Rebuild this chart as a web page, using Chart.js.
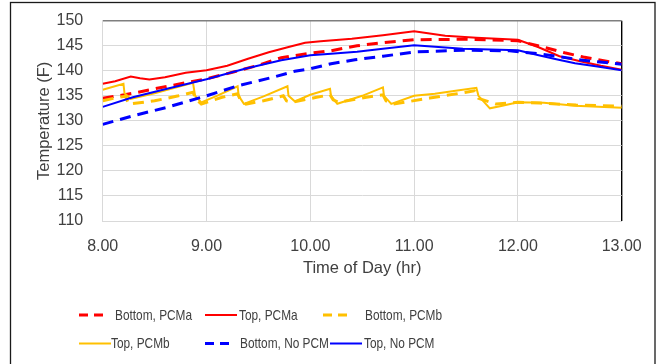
<!DOCTYPE html>
<html>
<head>
<meta charset="utf-8">
<script src="https://cdn.jsdelivr.net/npm/chart.js@4.4.1/dist/chart.umd.min.js"></script>
<style>
  html, body { margin: 0; padding: 0; background: #ffffff; }
  #wrap { position: relative; width: 663px; height: 364px; overflow: hidden; }
  canvas { display: block; }
</style>
</head>
<body>
<div id="wrap"><canvas id="c" width="663" height="364"></canvas></div>
<script>
// ---------------- DATA ----------------
const xTickLabels = ['8.00', '9.00', '10.00', '11.00', '12.00', '13.00'];
const yTickValues = [110, 115, 120, 125, 130, 135, 140, 145, 150];

const seriesNames = ['Bottom, PCMa', 'Top, PCMa', 'Bottom, PCMb', 'Top, PCMb', 'Bottom, No PCM', 'Top, No PCM'];

// Bottom, PCMa (red dashed)
const bottomPCMaTime = [8.0, 8.15, 8.34, 8.5, 8.75, 9.0, 9.25, 9.5, 9.72, 10.0, 10.2, 10.45, 10.7, 11.0, 11.5, 12.0, 12.24, 12.45, 12.63, 12.8, 13.0];
const bottomPCMaTemp = [134.5, 135.0, 135.7, 136.4, 137.4, 138.4, 139.7, 141.1, 142.6, 143.5, 144.0, 145.0, 145.6, 146.2, 146.3, 146.0, 144.75, 143.6, 142.75, 142.1, 141.4];

// Top, PCMa (red solid)
const topPCMaTime = [8.0, 8.12, 8.27, 8.36, 8.45, 8.6, 8.8, 9.0, 9.2, 9.4, 9.6, 9.8, 9.95, 10.1, 10.4, 10.7, 11.0, 11.3, 11.6, 12.0, 12.2, 12.4, 12.6, 12.8, 13.0];
const topPCMaTemp = [137.4, 137.9, 138.85, 138.5, 138.25, 138.7, 139.6, 140.1, 141.0, 142.4, 143.7, 144.8, 145.6, 145.9, 146.4, 147.1, 147.9, 147.0, 146.6, 146.2, 144.7, 142.9, 141.9, 141.0, 140.2];

// Bottom, PCMb (yellow dashed)
const bottomPCMbTime = [8.0, 8.15, 8.22, 8.25, 8.5, 8.73, 8.87, 8.9, 8.95, 9.15, 9.3, 9.33, 9.38, 9.55, 9.74, 9.77, 9.82, 10.06, 10.19, 10.22, 10.27, 10.54, 10.7, 10.73, 10.8, 11.15, 11.5, 11.58, 11.62, 11.79, 12.0, 12.21, 12.56, 13.0];
const bottomPCMbTemp = [134.0, 134.7, 134.9, 133.35, 134.0, 135.0, 135.7, 134.3, 133.35, 134.7, 135.4, 134.0, 133.35, 134.0, 135.0, 134.0, 133.7, 134.7, 135.2, 134.2, 133.7, 134.7, 135.2, 134.0, 133.35, 134.55, 135.7, 136.0, 134.5, 133.35, 133.7, 133.55, 133.15, 132.9];

// Top, PCMb (yellow solid)
const topPCMbTime = [8.0, 8.2, 8.21, 8.27, 8.5, 8.87, 8.89, 8.95, 9.1, 9.3, 9.31, 9.36, 9.55, 9.78, 9.79, 9.85, 10.0, 10.19, 10.2, 10.26, 10.5, 10.7, 10.71, 10.78, 11.0, 11.2, 11.4, 11.6, 11.62, 11.73, 11.85, 12.0, 12.25, 12.55, 13.0];
const topPCMbTemp = [136.2, 137.4, 135.5, 134.4, 135.5, 137.6, 135.0, 133.7, 135.0, 136.9, 135.0, 133.4, 134.9, 136.9, 135.0, 133.9, 135.2, 136.4, 135.0, 133.4, 135.0, 136.7, 135.0, 133.4, 135.0, 135.4, 136.0, 136.6, 135.0, 132.5, 133.0, 133.7, 133.6, 133.0, 132.6];

// Bottom, No PCM (blue dashed)
const bottomNoPCMTime = [8.0, 8.29, 8.62, 9.0, 9.3, 9.64, 9.85, 10.0, 10.2, 10.43, 10.7, 11.0, 11.47, 11.92, 12.24, 12.63, 13.0];
const bottomNoPCMTemp = [129.3, 131.0, 132.7, 135.0, 137.0, 138.7, 139.9, 140.4, 141.4, 142.2, 142.9, 143.75, 144.1, 144.0, 143.3, 142.1, 141.3];

// Top, No PCM (blue solid)
const topNoPCMTime = [8.0, 8.29, 8.62, 9.0, 9.37, 9.72, 10.0, 10.2, 10.45, 10.7, 11.0, 11.47, 12.0, 12.2, 12.37, 12.55, 12.75, 13.0];
const topNoPCMTemp = [132.8, 134.7, 136.4, 138.3, 140.4, 142.1, 143.1, 143.4, 143.8, 144.4, 145.1, 144.4, 144.1, 143.1, 142.3, 141.5, 140.9, 140.1];

// ---------------- BUILD ----------------
function pts(ts, vs) { return ts.map((t, i) => ({ x: t, y: vs[i] })); }

const RED = '#FF0000', YEL = '#FFC000', BLU = '#0000FF';
const DASH = [11, 7];

const seriesData = [
  pts(bottomPCMaTime, bottomPCMaTemp),
  pts(topPCMaTime, topPCMaTemp),
  pts(bottomPCMbTime, bottomPCMbTemp),
  pts(topPCMbTime, topPCMbTemp),
  pts(bottomNoPCMTime, bottomNoPCMTemp),
  pts(topNoPCMTime, topNoPCMTemp)
];
const seriesStyle = [
  { color: RED, dash: DASH, w: 3 },
  { color: RED, dash: [], w: 2 },
  { color: YEL, dash: DASH, w: 3 },
  { color: YEL, dash: [], w: 2 },
  { color: BLU, dash: DASH, w: 3 },
  { color: BLU, dash: [], w: 2 }
];

const datasets = seriesNames.map((name, i) => ({
  label: name,
  data: seriesData[i],
  borderColor: seriesStyle[i].color,
  backgroundColor: seriesStyle[i].color,
  borderDash: seriesStyle[i].dash,
  borderWidth: seriesStyle[i].w,
  pointRadius: 0,
  fill: false,
  tension: 0,
  order: seriesNames.length - i
}));

const FONT = "'Liberation Sans', Arial, sans-serif";
const TXT = '#404040';
const GRID = '#D9D9D9';

// frame + custom legend (Excel-like 3-column layout)
const legendSpots = [
  { lx: 79, tx: 115, y: 315 },
  { lx: 205, tx: 239, y: 315 },
  { lx: 323, tx: 365, y: 315 },
  { lx: 79, tx: 111, y: 343.5 },
  { lx: 205, tx: 240, y: 343.5 },
  { lx: 330, tx: 364, y: 343.5 }
];

const framePlugin = {
  id: 'frameAndLegend',
  beforeDraw(chart) {
    const c = chart.ctx;
    c.save();
    c.fillStyle = '#ffffff';
    c.fillRect(0, 0, chart.width, chart.height);
    c.restore();
  },
  afterDraw(chart) {
    const c = chart.ctx;
    c.save();
    c.strokeStyle = '#1a1a1a';
    c.lineWidth = 1.3;
    c.strokeRect(10.5, 2.5, 644.5, 400);
    c.restore();

    chart.data.datasets.forEach((ds, i) => {
      const s = legendSpots[i];
      c.save();
      c.strokeStyle = ds.borderColor;
      c.lineWidth = ds.borderWidth;
      const dashed = ds.borderDash && ds.borderDash.length;
      c.setLineDash(dashed ? [9, 6] : []);
      c.beginPath();
      c.moveTo(s.lx, s.y);
      c.lineTo(s.lx + (dashed ? 25 : 32), s.y);
      c.stroke();
      c.restore();

      c.save();
      c.fillStyle = TXT;
      c.font = "15px 'Liberation Sans', Arial, sans-serif";
      c.textBaseline = 'middle';
      c.textAlign = 'left';
      c.translate(s.tx, s.y + 0.5);
      c.scale(0.79, 1);
      c.fillText(ds.label, 0, 0);
      c.restore();
    });
  }
};

new Chart(document.getElementById('c'), {
  type: 'line',
  data: { datasets },
  plugins: [framePlugin],
  options: {
    responsive: false,
    animation: false,
    devicePixelRatio: 1,
    layout: { padding: { left: 0, top: 20.7, right: 41.3, bottom: 0 } },
    plugins: { legend: { display: false }, tooltip: { enabled: false } },
    scales: {
      x: {
        type: 'linear',
        min: 8, max: 13,
        afterBuildTicks(scale) {
          scale.ticks = xTickLabels.map(l => ({ value: parseFloat(l) }));
        },
        ticks: {
          callback: (v) => xTickLabels.find(l => parseFloat(l) === v) || '',
          font: { family: FONT, size: 16 },
          color: TXT,
          padding: 16,
          maxRotation: 0,
          autoSkip: false
        },
        grid: {
          drawTicks: false,
          color: (ctx) => (ctx.tick && ctx.tick.value === 13 ? '#000000' : GRID),
          lineWidth: (ctx) => (ctx.tick && ctx.tick.value === 13 ? 1.4 : 1)
        },
        border: { color: GRID, width: 1 },
        title: {
          display: true,
          text: 'Time of Day (hr)',
          font: { family: FONT, size: 16.5 },
          color: TXT,
          padding: { top: 0, bottom: 86 }
        },
        afterFit(scale) { scale.height = 143; }
      },
      y: {
        type: 'linear',
        min: 110, max: 150,
        afterBuildTicks(scale) {
          scale.ticks = yTickValues.map(v => ({ value: v }));
        },
        ticks: {
          font: { family: FONT, size: 16 },
          color: TXT,
          padding: 19.5
        },
        grid: {
          drawTicks: false,
          color: (ctx) => (ctx.tick && ctx.tick.value === 150 ? '#7F7F7F' : GRID),
          lineWidth: (ctx) => (ctx.tick && ctx.tick.value === 150 ? 1.5 : 1)
        },
        border: { color: GRID, width: 1 },
        title: {
          display: true,
          text: 'Temperature (F)',
          font: { family: FONT, size: 16.5 },
          color: TXT,
          padding: { top: 35, bottom: 0 }
        },
        afterFit(scale) {
          scale.width = 102.7;
          scale.paddingTop = 0;
          scale.paddingBottom = 0;
        }
      }
    }
  }
});
</script>
</body>
</html>
